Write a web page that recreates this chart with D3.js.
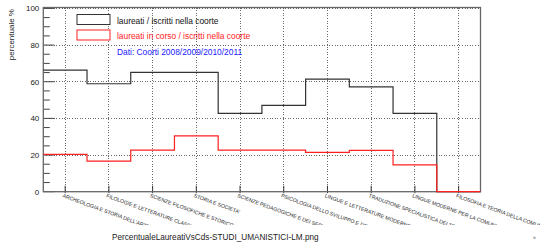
<!DOCTYPE html>
<html>
<head>
<meta charset="utf-8">
<script src="https://cdn.jsdelivr.net/npm/d3@7"></script>
<style>
  body { margin: 0; background: #fff; }
  svg { display: block; font-family: "Liberation Sans", Arial, sans-serif; }
</style>
</head>
<body>
<div id="chart"></div>
<script>
// corsi di laurea magistrale (etichette asse x)
const categories = [
  "ARCHEOLOGIA E STORIA DELL'ARTE",
  "FILOLOGIE E LETTERATURE CLASSICHE E MODERNE",
  "SCIENZE FILOSOFICHE E STORICO-FILOSOFICHE",
  "STORIA E SOCIETA'",
  "SCIENZE PEDAGOGICHE E DEI SERVIZI EDUCATIVI",
  "PSICOLOGIA DELLO SVILUPPO E DEI SERVIZI EDUCATIVI",
  "LINGUE E LETTERATURE MODERNE E COMPARATE",
  "TRADUZIONE SPECIALISTICA DEI TESTI",
  "LINGUE MODERNE PER LA COMUNICAZIONE INTERNAZIONALE",
  "FILOSOFIA E TEORIA DELLA COMUNICAZIONE"
]
// laureati / iscritti nella coorte
const laureati = [66.3, 58.9, 65.1, 65.1, 42.7, 47.1, 61.4, 57.2, 42.7, 0]
// laureati in corso / iscritti nella coorte
const laureatiInCorso = [20.4, 16.7, 22.7, 30.5, 22.7, 22.7, 21.5, 22.6, 14.6, 0]
const yTicks = [0, 20, 40, 60, 80, 100]

const legendItems = [
  {label: "laureati / iscritti nella coorte", color: "#333"},
  {label: "laureati in corso / iscritti nella coorte", color: "#ff2020"}
]
const note = "Dati: Coorti 2008/2009/2010/2011"
const fileTitle = "PercentualeLaureatiVsCds-STUDI_UMANISTICI-LM.png"

const W = 540, H = 242
const frame = {left: 43.3, right: 480.5, top: 7.5, bottom: 191.7}

const svg = d3.select("#chart").append("svg")
  .attr("width", W).attr("height", H)

let scX = d3.scaleBand().domain(categories).range([frame.left, frame.right]).padding(0)
let scY = d3.scaleLinear().domain([0, 100.5]).range([frame.bottom, frame.top])

// griglia tratteggiata
const grid = svg.append("g")
grid.selectAll("line.gx")
  .data(categories)
  .enter().append("line")
  .attr("x1", d => scX(d) + scX.bandwidth() / 2).attr("x2", d => scX(d) + scX.bandwidth() / 2)
  .attr("y1", frame.top).attr("y2", frame.bottom)
grid.selectAll("line.gy")
  .data(yTicks.filter(t => t > 0))
  .enter().append("line")
  .attr("x1", frame.left).attr("x2", frame.right)
  .attr("y1", d => scY(d)).attr("y2", d => scY(d))
grid.selectAll("line")
  .attr("stroke", "#444").attr("stroke-width", 0.8)
  .attr("stroke-dasharray", "1 1.6")
  .attr("shape-rendering", "crispEdges")

// asse y
let axisY = d3.axisLeft(scY).tickValues(yTicks).tickSize(0).tickPadding(4)
let gy = svg.append("g").attr("transform", `translate(${frame.left},0)`).call(axisY)
gy.select(".domain").remove()
gy.selectAll("text").attr("font-size", 8).attr("fill", "#222")
  .attr("font-family", "Liberation Sans, Arial, sans-serif")

// tacche y (maggiori e minori, verso l'interno)
const minor = d3.range(0, 101, 5)
svg.append("g").selectAll("line")
  .data(minor)
  .enter().append("line")
  .attr("x1", frame.left)
  .attr("x2", d => frame.left + (d % 20 === 0 ? 11 : 6.5))
  .attr("y1", d => scY(d)).attr("y2", d => scY(d))
  .attr("stroke", "#444").attr("stroke-width", 1)

// tacche x
svg.append("g").selectAll("line")
  .data(categories)
  .enter().append("line")
  .attr("x1", d => scX(d) + scX.bandwidth() / 2).attr("x2", d => scX(d) + scX.bandwidth() / 2)
  .attr("y1", frame.bottom - 6).attr("y2", frame.bottom + 1.5)
  .attr("stroke", "#333").attr("stroke-width", 1)

// cornice
svg.append("rect")
  .attr("x", frame.left).attr("y", frame.top)
  .attr("width", frame.right - frame.left).attr("height", frame.bottom - frame.top)
  .attr("fill", "none").attr("stroke", "#666").attr("stroke-width", 1.3)

// istogrammi a gradini
function stepPoints(values) {
  let pts = values.map((v, i) => [scX(categories[i]), scY(v)])
  pts.push([frame.right, scY(values[values.length - 1])])
  return pts
}
let makeLine = d3.line().curve(d3.curveStepAfter)
svg.append("path")
  .attr("d", makeLine(stepPoints(laureati)))
  .attr("fill", "none").attr("stroke", legendItems[0].color).attr("stroke-width", 1.2)
svg.append("path")
  .attr("d", makeLine(stepPoints(laureatiInCorso)))
  .attr("fill", "none").attr("stroke", legendItems[1].color).attr("stroke-width", 1.2)

// etichette asse x ruotate (tagliate in basso come nell'originale)
svg.append("clipPath").attr("id", "lab-clip")
  .append("rect").attr("x", 0).attr("y", 0).attr("width", W).attr("height", 225)
svg.append("g").attr("clip-path", "url(#lab-clip)")
  .selectAll("text")
  .data(categories)
  .enter().append("text")
  .attr("transform", d => `translate(${scX(d) + scX.bandwidth() / 2 - 1.5},${frame.bottom + 1.5}) rotate(20)`)
  .attr("dy", "0.8em")
  .attr("font-size", 5.2)
  .attr("fill", "#222")
  .text(d => d)

// titolo asse y
svg.append("text")
  .attr("transform", `translate(14,9) rotate(-90)`)
  .attr("text-anchor", "end")
  .attr("font-size", 8)
  .attr("fill", "#222")
  .text("percentuale %")

// legenda
let leg = svg.append("g")
legendItems.forEach((item, idx) => {
  leg.append("rect")
    .attr("x", 77).attr("y", 14.5 + idx * 15.5)
    .attr("width", 33).attr("height", 10)
    .attr("fill", "#fff").attr("stroke", item.color).attr("stroke-width", 1)
  leg.append("text")
    .attr("x", 117).attr("y", 23.5 + idx * 15.5)
    .attr("font-size", 8.4)
    .attr("fill", idx === 0 ? "#111" : "#ff1a1a")
    .text(item.label)
})
leg.append("text")
  .attr("x", 117).attr("y", 54.5)
  .attr("font-size", 8.4)
  .attr("fill", "#2020ff")
  .text(note)

// nome del file in basso
svg.append("text")
  .attr("x", 112).attr("y", 239.5)
  .attr("font-size", 8.2)
  .attr("fill", "#222")
  .text(fileTitle)

svg.append("text")
  .attr("x", 533).attr("y", 239)
  .attr("font-size", 5)
  .attr("fill", "#555")
  .text("»")
</script>
</body>
</html>
